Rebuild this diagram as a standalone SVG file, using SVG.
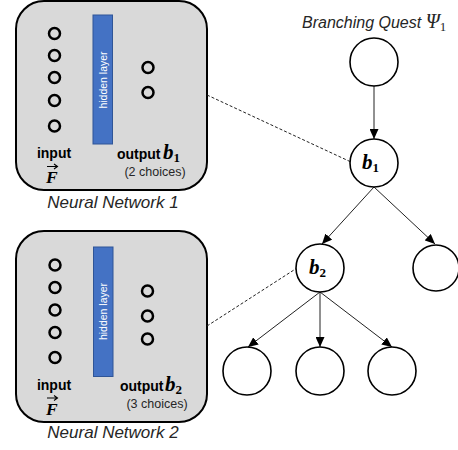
<svg xmlns="http://www.w3.org/2000/svg" width="458" height="450" viewBox="0 0 458 450">
  <defs>
    <style>
      .panel { fill: #d9d9d9; stroke: #000; stroke-width: 2; }
      .hidden { fill: #4472c4; stroke: #2f5597; stroke-width: 1; }
      .unit { fill: none; stroke: #000; stroke-width: 2.5; }
      .node { fill: #fff; stroke: #000; stroke-width: 1.6; }
      .edge { stroke: #222; stroke-width: 1; fill: none; }
      .link { stroke: #222; stroke-width: 1; fill: none; stroke-dasharray: 3 2; }
      .vec { stroke: #000; stroke-width: 1.1; fill: none; }
      .sans { font-family: "Liberation Sans", Arial, sans-serif; }
      .lbl { font-family: "Liberation Sans", Arial, sans-serif; font-weight: bold; font-size: 14px; fill: #000; }
      .note { font-family: "Liberation Sans", Arial, sans-serif; font-size: 12.5px; fill: #262626; }
      .cap { font-family: "Liberation Sans", Arial, sans-serif; font-style: italic; font-size: 17px; fill: #262626; }
      .math { font-family: "Liberation Serif", "Times New Roman", serif; font-style: italic; font-weight: bold; fill: #000; }
      .hl { font-family: "Liberation Sans", Arial, sans-serif; font-size: 10.5px; fill: #fff; }
    </style>
    <marker id="arrow" markerUnits="userSpaceOnUse" markerWidth="10" markerHeight="9" refX="10" refY="4.5" orient="auto">
      <path d="M0,0 L10,4.5 L0,9 z" fill="#000"/>
    </marker>
  </defs>

  <!-- neural network 1 -->
  <g id="nn1">
    <rect class="panel" x="16" y="1" width="191" height="189" rx="28" ry="28"/>
    <circle class="unit" cx="54.5" cy="33.5" r="5.5"/>
    <circle class="unit" cx="54.5" cy="55.5" r="5.5"/>
    <circle class="unit" cx="54.5" cy="77.5" r="5.5"/>
    <circle class="unit" cx="54.5" cy="100.5" r="5.5"/>
    <circle class="unit" cx="54.5" cy="126" r="5.5"/>
    <rect class="hidden" x="93" y="15" width="19.5" height="129"/>
    <text class="hl" transform="translate(106.5,80) rotate(-90)" text-anchor="middle">hidden layer</text>
    <circle class="unit" cx="148" cy="67.5" r="5.5"/>
    <circle class="unit" cx="148" cy="92.5" r="5.5"/>
    <text class="lbl" x="54" y="158" text-anchor="middle">input</text>
    <text class="math" x="46" y="183" font-size="17.5">F</text>
    <path class="vec" d="M47,166.5 H57 M54,164 L57.5,166.5 L54,169"/>
    <text class="lbl" x="117" y="159" font-size="13.5">output</text>
    <text class="math" x="163" y="159" font-size="21">b<tspan font-size="13" dy="3" font-style="normal">1</tspan></text>
    <text class="note" x="155" y="176" text-anchor="middle">(2 choices)</text>
    <text class="cap" x="113" y="208" text-anchor="middle">Neural Network 1</text>
  </g>

  <!-- neural network 2 -->
  <g id="nn2">
    <rect class="panel" x="16" y="231" width="191" height="191" rx="28" ry="28"/>
    <circle class="unit" cx="55" cy="265" r="5.5"/>
    <circle class="unit" cx="55" cy="287.5" r="5.5"/>
    <circle class="unit" cx="55" cy="310" r="5.5"/>
    <circle class="unit" cx="55" cy="332.5" r="5.5"/>
    <circle class="unit" cx="55" cy="357.5" r="5.5"/>
    <rect class="hidden" x="93.5" y="247" width="19.5" height="129.5"/>
    <text class="hl" transform="translate(107,311.5) rotate(-90)" text-anchor="middle">hidden layer</text>
    <circle class="unit" cx="147.5" cy="291" r="5.5"/>
    <circle class="unit" cx="147.5" cy="316" r="5.5"/>
    <circle class="unit" cx="147.5" cy="339" r="5.5"/>
    <text class="lbl" x="54" y="389.5" text-anchor="middle">input</text>
    <text class="math" x="46" y="414.5" font-size="17.5">F</text>
    <path class="vec" d="M47,398 H57 M54,395.5 L57.5,398 L54,400.5"/>
    <text class="lbl" x="120" y="391" font-size="13.5">output</text>
    <text class="math" x="165" y="391" font-size="21">b<tspan font-size="13" dy="3" font-style="normal">2</tspan></text>
    <text class="note" x="157" y="408" text-anchor="middle">(3 choices)</text>
    <text class="cap" x="113" y="438" text-anchor="middle">Neural Network 2</text>
  </g>

  <!-- quest tree title -->
  <g id="title">
    <text class="sans" x="302" y="28" font-size="16" font-style="italic" fill="#262626">Branching Quest <tspan font-family="Liberation Serif, serif" font-size="20">Ψ</tspan><tspan font-family="Liberation Serif, serif" font-style="normal" font-size="13" dy="3">1</tspan></text>
  </g>

  <!-- connectors -->
  <g id="connectors">
    <line class="link" x1="207" y1="95" x2="351" y2="162"/>
    <line class="link" x1="207" y1="326" x2="297" y2="268"/>
    <line class="edge" x1="374" y1="86" x2="374" y2="139" marker-end="url(#arrow)"/>
    <line class="edge" x1="374" y1="187" x2="322" y2="244" marker-end="url(#arrow)"/>
    <line class="edge" x1="374" y1="187" x2="435" y2="244" marker-end="url(#arrow)"/>
    <line class="edge" x1="320" y1="292" x2="248" y2="347" marker-end="url(#arrow)"/>
    <line class="edge" x1="320" y1="292" x2="320" y2="347" marker-end="url(#arrow)"/>
    <line class="edge" x1="320" y1="292" x2="392" y2="347" marker-end="url(#arrow)"/>
  </g>

  <!-- quest nodes -->
  <g id="root">
    <circle class="node" cx="374" cy="62" r="24"/>
  </g>
  <g id="b1">
    <circle class="node" cx="374" cy="163" r="24"/>
    <text class="math" x="362" y="169" font-size="21">b<tspan font-size="13" dy="3" font-style="normal">1</tspan></text>
  </g>
  <g id="b2">
    <circle class="node" cx="320" cy="268" r="24"/>
    <text class="math" x="309" y="274" font-size="21">b<tspan font-size="13" dy="3" font-style="normal">2</tspan></text>
  </g>
  <g id="leafRight">
    <circle class="node" cx="436" cy="268" r="23"/>
  </g>
  <g id="leaf1">
    <circle class="node" cx="247" cy="371" r="24"/>
  </g>
  <g id="leaf2">
    <circle class="node" cx="320" cy="371" r="24"/>
  </g>
  <g id="leaf3">
    <circle class="node" cx="392" cy="371" r="24"/>
  </g>
</svg>
